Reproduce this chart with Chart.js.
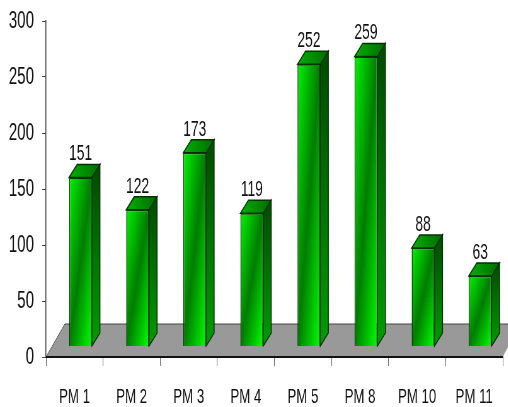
<!DOCTYPE html>
<html>
<head>
<meta charset="utf-8">
<script src="https://cdn.jsdelivr.net/npm/chart.js@4"></script>
<style>
    html, body { margin: 0; padding: 0; background: #fff; overflow: hidden; width: 508px; height: 407px; }
    /* el original esta aplastado en horizontal y algo borroso: se dibuja ancho y se comprime */
    #grafico { display: block; transform: scaleX(0.63); transform-origin: 0 0; filter: blur(0.5px); }
</style>
</head>
<body>
<canvas id="grafico" width="806" height="407"></canvas>
<script>
const categorias = ['PM 1', 'PM 2', 'PM 3', 'PM 4', 'PM 5', 'PM 8', 'PM 10', 'PM 11'];
const valores = [151, 122, 173, 119, 252, 259, 88, 63];
const ticksY = [0, 50, 100, 150, 200, 250, 300];

// Desplazamientos del falso 3D (px del canvas)
const fondoX = 12.7, fondoY = 13;
const baseX = 9.5, baseY = 10.5;
const sueloX = 30, sueloY = 33;
const anchoBarra = 0.4;

const familia = '"Liberation Sans", Arial, sans-serif';
const fuenteY = { family: familia, size: 24 };
const fuenteX = { family: familia, size: 21 };
const fuenteValor = { family: familia, size: 22 };

const falso3d = {
    id: 'falso3d',
    beforeDatasetsDraw(chart) {
        const { ctx, chartArea: a } = chart;
        const suelo = chart.scales.y.getPixelForValue(0);
        // Suelo gris
        ctx.save();
        ctx.fillStyle = '#999999';
        ctx.beginPath();
        ctx.moveTo(a.left, suelo);
        ctx.lineTo(a.left + sueloX, suelo - sueloY);
        ctx.lineTo(chart.width + 20, suelo - sueloY);
        ctx.lineTo(a.right, suelo);
        ctx.closePath();
        ctx.fill();
        ctx.strokeStyle = '#444';
        ctx.lineWidth = 1;
        ctx.beginPath();
        ctx.moveTo(a.left, suelo);
        ctx.lineTo(a.left + sueloX, suelo - sueloY);
        ctx.lineTo(chart.width + 20, suelo - sueloY);
        ctx.stroke();
        ctx.strokeStyle = '#111';
        ctx.lineWidth = 2;
        ctx.beginPath();
        ctx.moveTo(a.left, suelo);
        ctx.lineTo(a.right, suelo);
        ctx.stroke();
        ctx.restore();

        // Caras lateral y superior, antes del frente
        ctx.save();
        ctx.translate(baseX, -baseY);
        chart.getDatasetMeta(0).data.forEach(bar => {
            const izq = bar.x - bar.width / 2, der = bar.x + bar.width / 2;
            ctx.strokeStyle = '#003300';
            ctx.lineWidth = 1.5;
            const lado = ctx.createLinearGradient(0, bar.y - fondoY, 0, bar.base);
            lado.addColorStop(0, '#004a00');
            lado.addColorStop(1, '#009c00');
            ctx.fillStyle = lado;
            ctx.beginPath();
            ctx.moveTo(der, bar.y);
            ctx.lineTo(der + fondoX, bar.y - fondoY);
            ctx.lineTo(der + fondoX, bar.base - fondoY);
            ctx.lineTo(der, bar.base);
            ctx.closePath();
            ctx.fill();
            ctx.stroke();
            const g = ctx.createLinearGradient(izq, bar.y, der + fondoX, bar.y - fondoY);
            g.addColorStop(0, '#00b000');
            g.addColorStop(1, '#006a00');
            ctx.fillStyle = g;
            ctx.beginPath();
            ctx.moveTo(izq, bar.y);
            ctx.lineTo(izq + fondoX, bar.y - fondoY);
            ctx.lineTo(der + fondoX, bar.y - fondoY);
            ctx.lineTo(der, bar.y);
            ctx.closePath();
            ctx.fill();
            ctx.stroke();
        });
        // el translate sigue activo para el frente de las barras
    },
    afterDatasetsDraw(chart) {
        const { ctx } = chart;
        ctx.textAlign = 'center';
        ctx.textBaseline = 'bottom';
        ctx.fillStyle = '#111';
        ctx.font = `${fuenteValor.size}px ${fuenteValor.family}`;
        chart.getDatasetMeta(0).data.forEach((bar, i) => {
            ctx.fillText(valores[i], bar.x, bar.y - fondoY + 1);
        });
        ctx.restore();
    }
};

new Chart(document.getElementById('grafico'), {
    type: 'bar',
    data: {
        labels: categorias,
        datasets: [{
            data: valores,
            barPercentage: anchoBarra,
            categoryPercentage: 1,
            borderColor: '#003300',
            borderWidth: 1.5,
            backgroundColor: (c) => {
                const { ctx, chartArea, scales } = c.chart;
                if (!chartArea || c.dataIndex === undefined) return '#00c000';
                const w = chartArea.width / categorias.length * anchoBarra;
                const cx = scales.x.getPixelForValue(c.dataIndex);
                const arriba = scales.y.getPixelForValue(valores[c.dataIndex]);
                const abajo = scales.y.getPixelForValue(0);
                const h = abajo - arriba, cy = (arriba + abajo) / 2;
                // degradado de esquina a esquina: la banda oscura va por la otra diagonal
                const n = h * h + w * w;
                const dx = h * w * h / n, dy = h * w * w / n;
                const g = ctx.createLinearGradient(cx - dx, cy - dy, cx + dx, cy + dy);
                g.addColorStop(0, '#00f400');
                g.addColorStop(0.5, '#007c00');
                g.addColorStop(1, '#00ff00');
                return g;
            }
        }]
    },
    plugins: [falso3d],
    options: {
        responsive: false,
        animation: false,
        layout: { padding: { top: 21, right: 8, left: 0, bottom: 0 } },
        plugins: { legend: { display: false }, tooltip: { enabled: false } },
        scales: {
            x: {
                afterFit: (s) => { s.height = 50; s.paddingLeft = 0; s.paddingRight = 0; },
                grid: { drawOnChartArea: false, offset: true, color: '#666', tickLength: 9 },
                border: { color: '#111', width: 2 },
                ticks: { color: '#111', font: fuenteX, padding: 19, maxRotation: 0, autoSkip: false }
            },
            y: {
                min: 0,
                max: 300,
                afterFit: (s) => { s.width = 73; s.paddingTop = 0; s.paddingBottom = 0; },
                afterBuildTicks: (s) => { s.ticks = ticksY.map(v => ({ value: v })); },
                grid: { drawOnChartArea: false, color: '#444', tickLength: 6 },
                border: { color: '#444', width: 1.5 },
                ticks: { color: '#111', font: fuenteY, padding: 13 }
            }
        }
    }
});
</script>
</body>
</html>
